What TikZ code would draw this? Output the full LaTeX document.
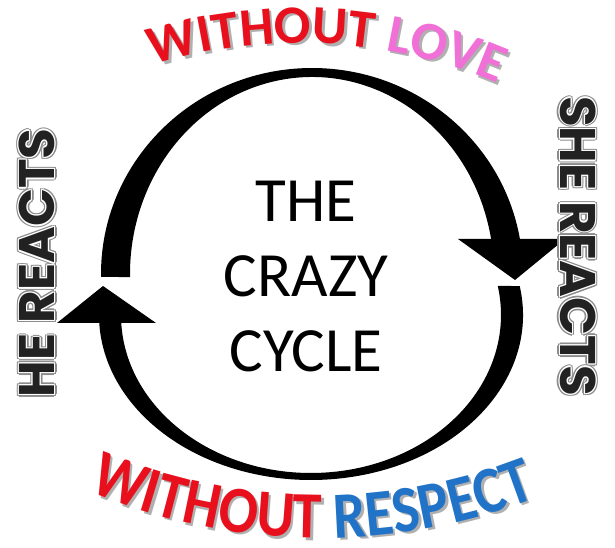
\documentclass[tikz,border=0pt]{standalone}
\usepackage{fontspec}
\setmainfont{Carlito}
\newfontfamily\artfont{Carlito}
\newfontfamily\artfontn{Carlito}[FakeStretch=0.88]
\newfontfamily\sidefont{Poppins}
\usetikzlibrary{calc,decorations.text}
\definecolor{wred}{HTML}{E8101C}
\definecolor{lovepink}{HTML}{F070D8}
\definecolor{respblue}{HTML}{2173C8}
\definecolor{shadowgray}{HTML}{B0B0B0}
\definecolor{sidegray}{HTML}{222222}
\definecolor{halogray}{HTML}{8C8C8C}
\newcommand\ring[4]{%
\makebox[0pt][l]{\color{#1}%
\makebox[0pt][l]{\hspace*{#2}#4}%
\makebox[0pt][l]{\hspace*{-#2}#4}%
\makebox[0pt][l]{\raisebox{#2}{#4}}%
\makebox[0pt][l]{\raisebox{-#2}{#4}}%
\makebox[0pt][l]{\hspace*{#3}\raisebox{#3}{#4}}%
\makebox[0pt][l]{\hspace*{-#3}\raisebox{#3}{#4}}%
\makebox[0pt][l]{\hspace*{#3}\raisebox{-#3}{#4}}%
\makebox[0pt][l]{\hspace*{-#3}\raisebox{-#3}{#4}}%
}}
\newcommand\outlinetext[1]{\ring{halogray}{2.6pt}{1.85pt}{#1}\ring{white}{1.3pt}{0.9pt}{#1}{\color{sidegray}#1}}
\newcommand\topfont{\artfont\bfseries\fontsize{54}{54}\selectfont}
\newcommand\botfont{\artfontn\bfseries\fontsize{66}{66}\selectfont}
\tikzset{
  arctext/.style={decorate, decoration={text along path, text align=center, text={#1}}},
  centertext/.style={anchor=base, font=\fontsize{63}{63}\selectfont, inner sep=0pt},
  sidetext/.style={font=\sidefont\bfseries\fontsize{50}{50}\selectfont, inner sep=0pt},
  cyclepart/.style={fill=black},
}
\begin{document}
\begin{tikzpicture}[x=1pt,y=1pt]
\useasboundingbox (0,0) rectangle (615,548);
\fill[white] (0,0) rectangle (615,548);

% upper arc (left -> over the top -> right)
\path[cyclepart] ($(312,274)+(180.8:211 and 206)$)
  arc[start angle=180.8, end angle=9.8, x radius=211pt, y radius=206pt]
  -- ($(312,274)+(10.2:182 and 197)$)
  arc[start angle=10.2, end angle=180.9, x radius=182pt, y radius=197pt] -- cycle;
% right arrowhead
\path[cyclepart] (458,309) -- (565,309) -- (515,268) -- cycle;

% lower arc (right -> under the bottom -> left)
\path[cyclepart] ($(311,233)+(10.12:212 and 165)$)
  arc[start angle=10.12, end angle=-177.22, x radius=212pt, y radius=165pt]
  -- ($(311,233)+(-177.1:190 and 158)$)
  arc[start angle=-177.1, end angle=10.58, x radius=190pt, y radius=158pt] -- cycle;
% left arrowhead
\path[cyclepart] (57,225) -- (156,225) -- (103,262) -- cycle;

% centre text
\node[centertext] (the) at (306,326) {THE};
\node[centertext] (crazy) at (306,251) {CRAZY};
\node[centertext] (cycle) at (306,176) {CYCLE};

% top arched text
\path[arctext={|\topfont\color{shadowgray}|WITHOUT LOVE}, shift={(2.5,-2.5)}]
  ($(300,5)+(121.9:500)$) arc[start angle=121.9, end angle=51.9, radius=500pt];
\path[arctext={|\topfont\color{wred}|WITHOUT |+\color{lovepink}|LOVE}]
  ($(300,5)+(121.9:500)$) arc[start angle=121.9, end angle=51.9, radius=500pt];

% bottom arched text
\path[arctext={|\botfont\color{shadowgray}|WITHOUT RESPECT}, shift={(2.5,-2.5)}]
  ($(320,610)+(239.24:600)$) arc[start angle=239.24, end angle=299.24, radius=600pt];
\path[arctext={|\botfont\color{wred}|WITHOUT |+\color{respblue}|RESPECT}]
  ($(320,610)+(239.24:600)$) arc[start angle=239.24, end angle=299.24, radius=600pt];

% side texts
\node[sidetext, rotate=90] (he) at (37,285) {\outlinetext{HE REACTS}};
\node[sidetext, rotate=-90] (she) at (578,302) {\outlinetext{SHE REACTS}};
\end{tikzpicture}
\end{document}
